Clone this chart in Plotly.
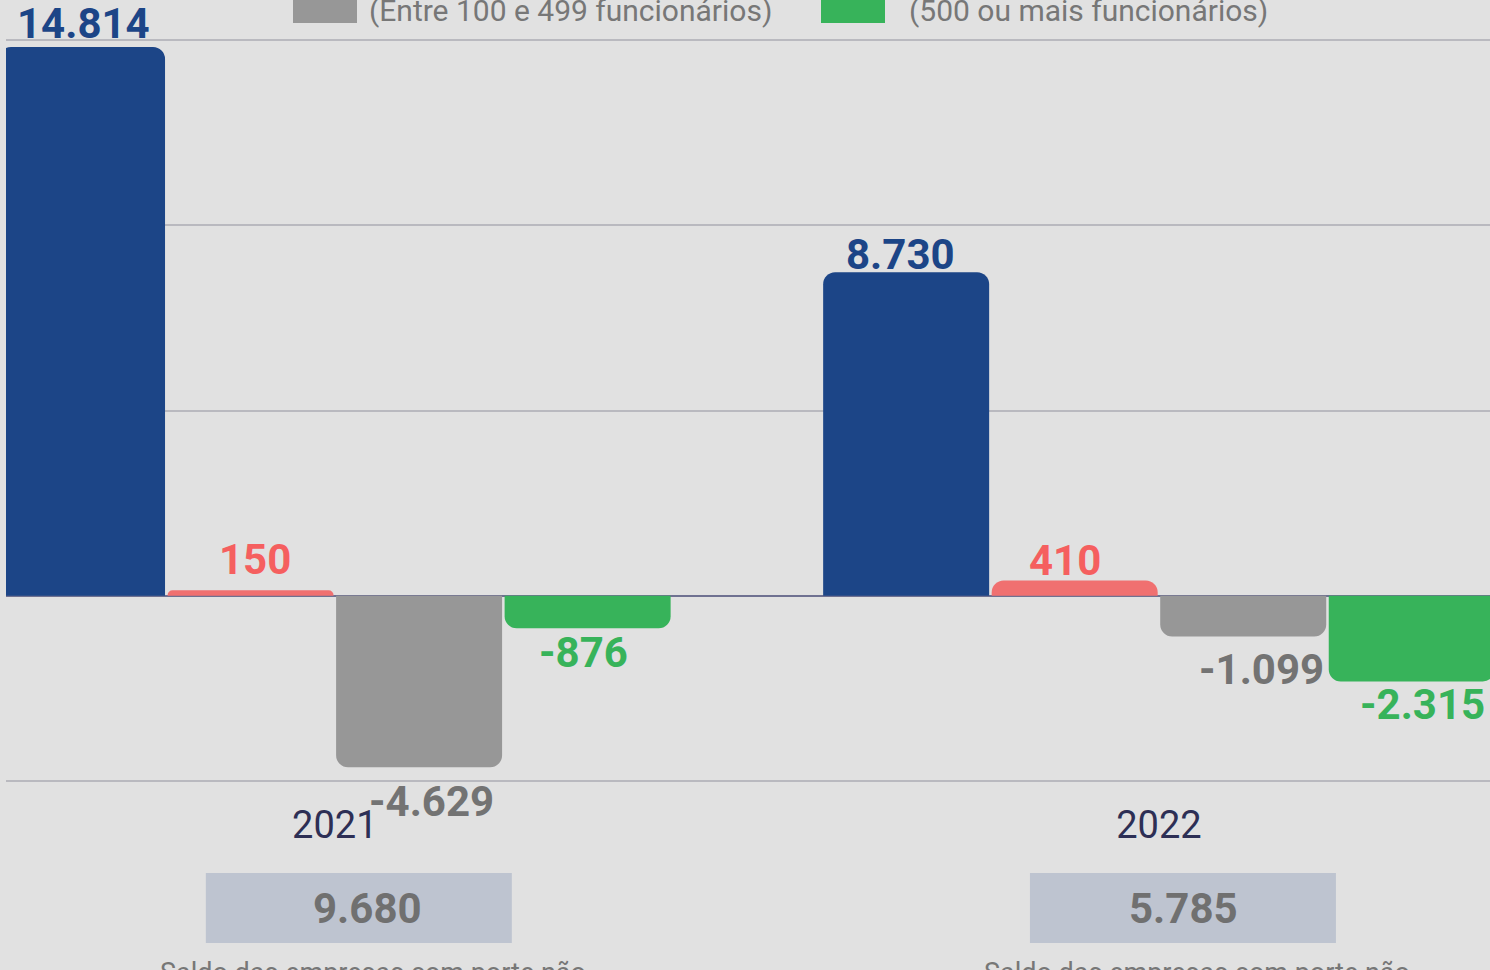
import plotly.graph_objects as go

# ---- data ----
years = ["2021", "2022"]
series_names = ["Micro e pequenas", "Médio porte", "Médio-grande porte", "Grande porte"]
micro = [14814, 8730]
pequeno = [150, 410]
medio = [-4629, -1099]
grande = [-876, -2315]
saldo_nao_informado = [9680, 5785]
legend_texts = ["(Entre 100 e 499 funcionários)", "(500 ou mais funcionários)"]
footer_text = "Saldo das empresas com porte não"

# ---- styles ----
bar_colors = ["#1c4587", "#f07070", "#979797", "#37b35a"]
label_colors = ["#1c4587", "#f55f5f", "#737373", "#37b35a"]
BG = "#e1e1e1"
FONT = "Roboto"

values = [micro, pequeno, medio, grande]

fig = go.Figure()
for name, vals, col in zip(series_names, values, bar_colors):
    fig.add_trace(go.Bar(x=years, y=vals, name=name, marker_color=col,
                         marker_line_width=0, showlegend=False))

# label nudges (px): [series][year] -> (dx, dy)
nudges = [
    [(1, 23), (-6, 18)],
    [(4, 31), (-10, 20)],
    [(12, -34), (18, -33)],
    [(-4, -24), (11, -23)],
]
saldo_text_dx = [33, 25]

def fmt(v):
    s = f"{abs(v):,}".replace(",", ".")
    return ("-" if v < 0 else "") + s

# plot area geometry (pixels)
TOP, BOT = 38, 970 - 187
PH = BOT - TOP
LEFT, PW = 6, 1484

def px_x(p):
    return (p - LEFT) / PW

def px_y(p):
    return (BOT - p) / PH

bargap = 0.182
slot = (1 - bargap) / 4
annotations = []
shapes = []
for si, vals in enumerate(values):
    for yi, v in enumerate(vals):
        xc = yi - (1 - bargap) / 2 + slot * (si + 0.5)
        dx, dy = nudges[si][yi]
        annotations.append(dict(
            x=xc, y=v, xref="x", yref="y", text=fmt(v), showarrow=False,
            xanchor="center", yanchor="middle", xshift=dx, yshift=dy,
            font=dict(family=FONT, size=42, color=label_colors[si], weight="bold")))

# boxes with saldo values below the axis
for yi, v in enumerate(saldo_nao_informado):
    shapes.append(dict(type="rect", xref="x", yref="paper", xsizemode="pixel",
                       xanchor=yi, x0=-129, x1=177, y0=px_y(943), y1=px_y(873),
                       fillcolor="#bec4d0", line_width=0, layer="above"))
    annotations.append(dict(
        x=yi, y=px_y(908), xref="x", yref="paper", text=fmt(v),
        showarrow=False, xanchor="center", yanchor="middle", xshift=saldo_text_dx[yi],
        font=dict(family=FONT, size=42, color="#707070", weight="bold")))
    annotations.append(dict(
        x=yi, y=px_y(955), xref="x", yref="paper", text=footer_text,
        showarrow=False, xanchor="center", yanchor="top", xshift=38,
        font=dict(family=FONT, size=27, color="#777777")))

# legend (partially visible at top)
leg_sq = [(293, 357, "#979797"), (821, 885, "#37b35a")]
leg_tx = [367, 907]
for (x0, x1, c), tx, t in zip(leg_sq, leg_tx, legend_texts):
    shapes.append(dict(type="rect", xref="paper", yref="paper",
                       x0=px_x(x0), x1=px_x(x1), y0=px_y(23), y1=px_y(-30),
                       fillcolor=c, line_width=0, layer="above"))
    annotations.append(dict(x=px_x(tx), y=px_y(10), xref="paper", yref="paper",
                            text=t, showarrow=False, xanchor="left", yanchor="middle",
                            font=dict(family=FONT, size=30, color="#777777")))

fig.update_layout(
    width=1490, height=970,
    margin=dict(l=LEFT, r=0, t=TOP, b=970 - BOT, pad=0),
    paper_bgcolor=BG, plot_bgcolor=BG,
    barmode="group", bargap=bargap, bargroupgap=0.015,
    barcornerradius=12,
    annotations=annotations, shapes=shapes,
    xaxis=dict(range=[-0.399, 1.4017], showgrid=False, showline=False, zeroline=False,
               ticks="", ticklabelstandoff=16,
               tickfont=dict(family=FONT, size=38, color="#2d2f55")),
    yaxis=dict(range=[-5054, 15054], tickvals=[-5000, 0, 5000, 10000, 15000],
               showticklabels=False,
               showgrid=True, gridcolor="#b9b9bf", gridwidth=2,
               zeroline=True, zerolinecolor="#6f7191", zerolinewidth=2),
)

fig.write_html("out.html", config={"displayModeBar": False},
               post_script="document.body.style.margin='0';document.body.style.background='#e1e1e1';")
